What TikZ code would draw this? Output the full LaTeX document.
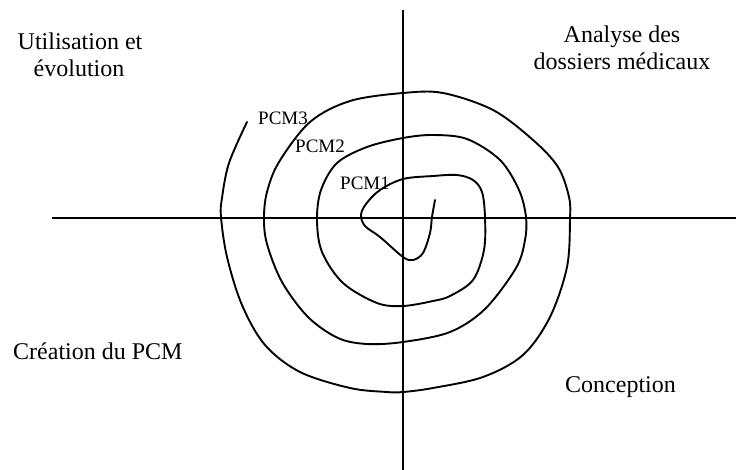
\documentclass[tikz,border=0pt]{standalone}
\usepackage{fontspec}
\setmainfont{Liberation Serif}
\begin{document}
\begin{tikzpicture}[x=1pt,y=-1pt,
  axis/.style={line width=1.8pt,black},
  spiral/.style={line width=1.9pt,black,line join=round,line cap=round},
  quad/.style={inner sep=0pt,font=\fontsize{24}{27}\selectfont},
  pcm/.style={inner sep=0pt,anchor=base west,font=\fontsize{19}{22}\selectfont}]
\useasboundingbox (0,0) rectangle (736,470);
% axes
\coordinate (hl) at (52,218);
\coordinate (hr) at (736,218);
\coordinate (vt) at (403,10);
\coordinate (vb) at (403,470);
\draw[axis] (hl) -- (hr);
\draw[axis] (vt) -- (vb);
% spiral
\draw[spiral] plot[smooth,tension=0.55] coordinates {
 (435,200) (432,217) (430,233) (423,253) (413,260) (403,257)
 (380,237) (365,226) (361,215) (366,204) (380,190) (403,179)
 (433,176) (457,175) (473,180) (482,192) (485,217) (484,250)
 (473,280) (450,296) (433,301) (403,306) (377,303) (343,283)
 (322,252) (317,220) (321,190) (337,163) (367,147) (403,138)
 (433,135) (467,139) (500,160) (519,190) (526,217) (525,240)
 (516,268) (485,309) (450,332) (403,342) (367,344) (338,338)
 (308,317) (282,282) (267,244) (264,218) (267,192) (279,162)
 (310,122) (350,101) (403,93) (443,93) (493,110) (533,140)
 (558,167) (569,197) (570,220) (567,267) (550,317) (523,355)
 (483,377) (433,388) (403,392) (387,392) (350,388) (300,372)
 (265,345) (242,305) (227,257) (221,217) (222,198) (229,163)
 (247,122)};
% quadrant labels
\node[quad,anchor=base] (u1) at (80,50) {Utilisation et};
\node[quad,anchor=base] (u2) at (79,77) {évolution};
\node[quad,anchor=base] (a1) at (622,43) {Analyse des};
\node[quad,anchor=base] (a2) at (622,70) {dossiers médicaux};
\node[quad,anchor=base west] (cr) at (13,359) {Création du PCM};
\node[quad,anchor=base west] (co) at (565,392) {Conception};
% PCM labels
\node[pcm] (p3) at (258,125) {PCM3};
\node[pcm] (p2) at (295,153) {PCM2};
\node[pcm] (p1) at (340,190) {PCM1};
\end{tikzpicture}
\end{document}
